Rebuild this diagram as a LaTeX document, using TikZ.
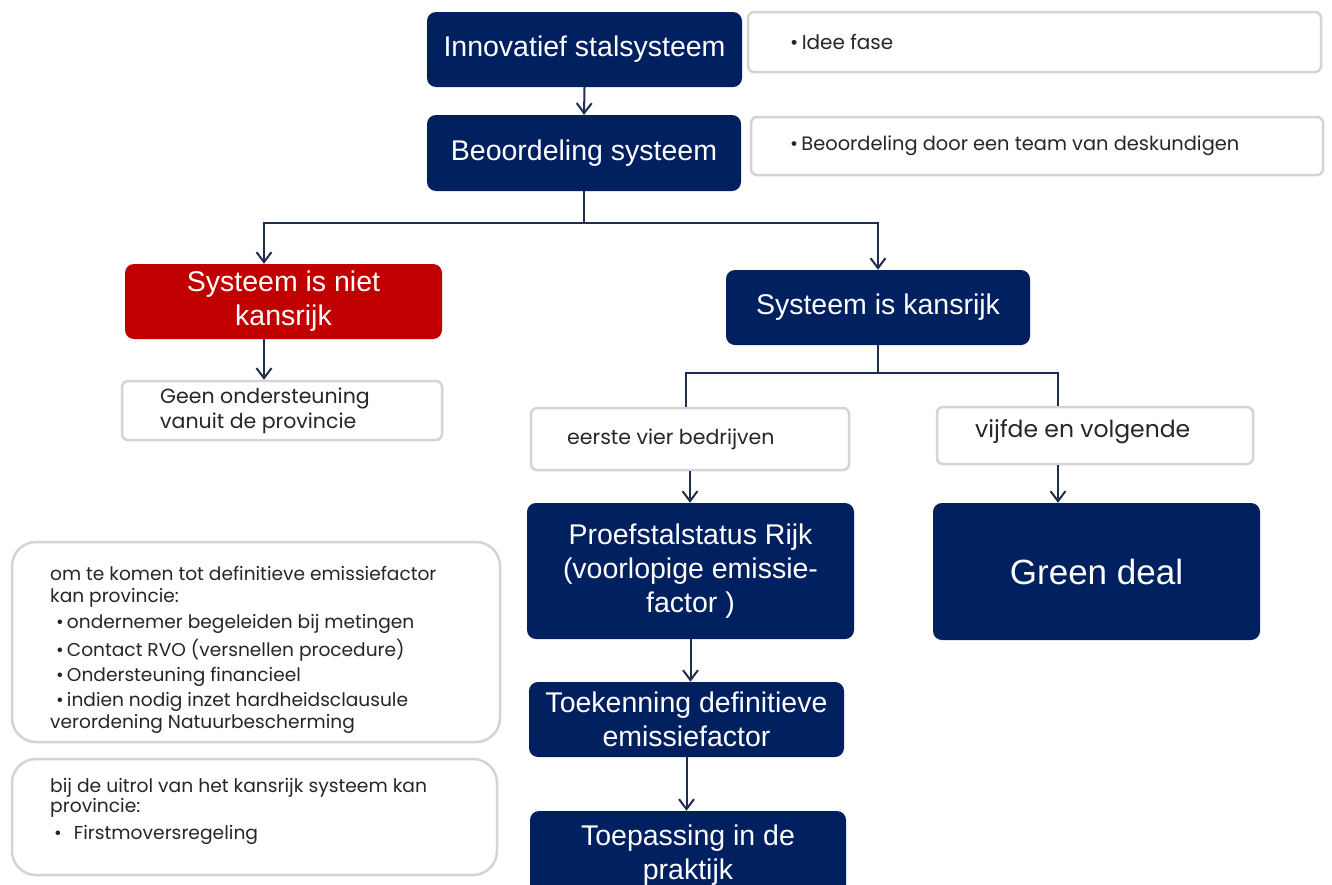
\documentclass[tikz,border=0pt]{standalone}
\usepackage{fontspec}
\setmainfont{Liberation Sans}
\newfontfamily\gothic{Poppins}
\usetikzlibrary{arrows.meta}
\definecolor{navy}{HTML}{002060}
\definecolor{redbox}{HTML}{C00000}
\definecolor{connc}{HTML}{1F2D50}
\definecolor{lightedge}{HTML}{D4D4D4}
\definecolor{txt}{HTML}{262626}
\begin{document}
\begin{tikzpicture}[x=1pt,y=-1pt,
  dark/.style={rectangle, rounded corners=9pt, fill=navy, text=white, inner sep=0pt, align=center, font=\fontsize{28.5}{34}\selectfont},
  redb/.style={dark, fill=redbox},
  light/.style={rectangle, rounded corners=6pt, draw=lightedge, line width=2.5pt, fill=white, inner sep=0pt},
  panel/.style={light, rounded corners=24pt},
  conn/.style={draw=connc, line width=2pt},
  arr/.style={conn, -{Straight Barb[length=10pt,width=15pt,line width=2pt]}},
  gtext/.style={inner sep=0pt, text=txt, align=left, anchor=west}
]
\useasboundingbox (0,0) rectangle (1332,884);
\fill[white] (0,0) rectangle (1332,884);
\clip (0,0) rectangle (1332,884);

% dark boxes
\node[dark, minimum width=315pt, minimum height=75pt] (inno) at (584.5,49.5) {Innovatief stalsysteem};
\node[dark, minimum width=314pt, minimum height=76pt] (beoord) at (584,153) {Beoordeling systeem};
\node[redb, minimum width=317pt, minimum height=75pt] (red) at (283.5,301.5) {Systeem is niet\\kansrijk};
\node[dark, minimum width=304pt, minimum height=75pt] (kans) at (878,307.5) {Systeem is kansrijk};
\node[dark, minimum width=327pt, minimum height=136pt] (proef) at (690.5,571) {Proefstalstatus Rijk\\(voorlopige emissie-\\factor )};
\node[dark, minimum width=327pt, minimum height=137pt, font=\fontsize{35}{40}\selectfont] (green) at (1096.5,571.5) {Green deal};
\node[dark, minimum width=315pt, minimum height=75pt] (toek) at (686.5,719.5) {Toekenning definitieve\\emissiefactor};
\node[dark, minimum width=316pt, minimum height=89pt] (toep) at (688,855.5) {Toepassing in de\\praktijk};

% light boxes
\node[light, minimum width=573pt, minimum height=60pt] (idee) at (1034.5,42) {};
\node[gtext, font=\gothic\fontsize{20}{24}\selectfont] (ideet) at (790,42) {•\,Idee fase};
\node[light, minimum width=572pt, minimum height=58pt] (side2) at (1037,146) {};
\node[gtext, font=\gothic\fontsize{19.4}{23}\selectfont] (side2t) at (790,146) {•\,Beoordeling door een team van deskundigen};
\node[light, minimum width=320pt, minimum height=59pt] (geen) at (282,410.5) {};
\node[gtext, font=\gothic\fontsize{20.5}{25}\selectfont] (geent) at (160,410.5) {Geen ondersteuning\\vanuit de provincie};
\node[light, minimum width=318pt, minimum height=62pt] (eerste) at (690,439) {};
\node[gtext, font=\gothic\fontsize{20.5}{24}\selectfont] (eerstet) at (567,439) {eerste vier bedrijven};
\node[light, minimum width=316pt, minimum height=57pt] (vijfde) at (1095,435.5) {};
\node[gtext, font=\gothic\fontsize{23.5}{26}\selectfont] (vijfdet) at (975,432) {vijfde en volgende};

% left panels
\node[panel, minimum width=488pt, minimum height=200pt] (left1) at (256,642) {};
\node[gtext, font=\gothic\fontsize{18.6}{22}\selectfont] (left1t) at (50,650) {om te komen tot definitieve emissiefactor\\kan provincie:\\[4pt]
\hspace*{6pt}•\,ondernemer begeleiden bij metingen\\[4pt]
\hspace*{6pt}•\,Contact RVO (versnellen procedure)\\[3pt]
\hspace*{6pt}•\,Ondersteuning financieel\\[3pt]
\hspace*{6pt}•\,indien nodig inzet hardheidsclausule\\
verordening Natuurbescherming};
\node[panel, minimum width=485pt, minimum height=116pt] (left2) at (254.5,817) {};
\node[gtext, font=\gothic\fontsize{18.7}{20.5}\selectfont] (left2t) at (50,811) {bij de uitrol van het kansrijk systeem kan\\provincie:\\[6pt]
\hspace*{4pt}•\hspace{12pt}Firstmoversregeling};

% connectors
\coordinate (j1) at (584,223);
\coordinate (rl) at (264,223);
\coordinate (bl) at (686,373);
\coordinate (br) at (1058,373);
\draw[arr] (inno.south) -- (beoord.north);
\draw[conn] (beoord.south) -- (j1);
\draw[arr] (j1) -- (rl) -- (rl |- red.north);
\draw[arr] (j1) -| (kans.north);
\draw[arr] (rl |- red.south) -- (rl |- geen.north);
\draw[conn] (kans.south) -- (kans.south |- bl);
\draw[conn] (bl |- eerste.north) -- (bl) -- (br) -- (br |- vijfde.north);
\draw[arr] (eerste.south) -- (eerste.south |- proef.north);
\draw[arr] (br |- vijfde.south) -- (br |- green.north);
\draw[arr] (proef.south) -- (proef.south |- toek.north);
\draw[arr] (toek.south) -- (toek.south |- toep.north);
\end{tikzpicture}
\end{document}
